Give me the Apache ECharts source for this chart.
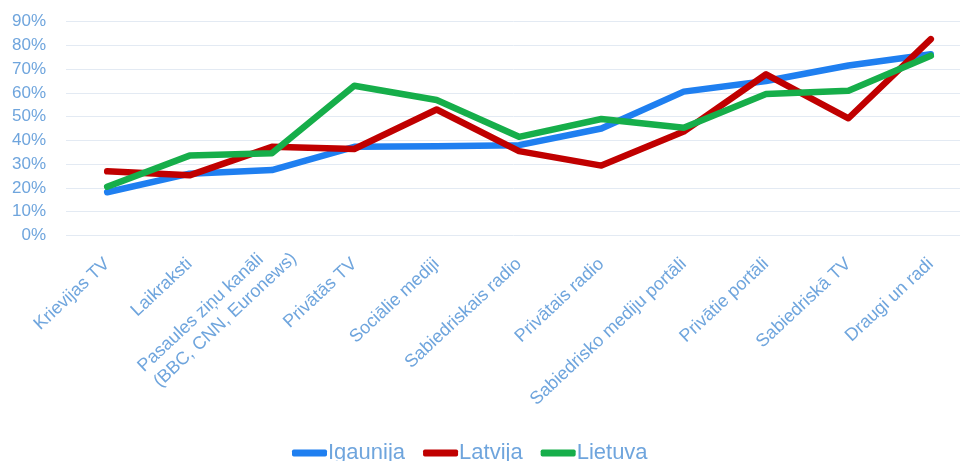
<!DOCTYPE html>
<html>
<head>
<meta charset="utf-8">
<script src="https://cdn.jsdelivr.net/npm/echarts@6/dist/echarts.min.js"></script>
<style>html,body{margin:0;padding:0;background:#fff}#c{width:960px;height:461px}</style>
</head>
<body>
<div id="c"></div>
<script>
var categories = ["Krievijas TV", "Laikraksti", "Pasaules ziņu kanāli\n(BBC, CNN, Euronews)", "Privātās TV", "Sociālie mediji", "Sabiedriskais radio", "Privātais radio", "Sabiedrisko mediju portāli", "Privātie portāli", "Sabiedriskā TV", "Draugi un radi"];
var igaunija = [18.2, 26, 27.5, 37.3, 37.5, 38, 45, 60.5, 65, 71.5, 76.2];
var latvija = [27, 25.3, 37.3, 36.4, 53, 35.5, 29.4, 43.7, 67.8, 49.3, 82.6];
var lietuva = [20.5, 33.6, 34.6, 63, 57, 41.5, 49, 45.3, 59.5, 60.9, 75.6];
var yTicks = {min: 0, max: 90, interval: 10};

var labelColor = '#6fa5dd';
var font = 'Liberation Sans, Arial, sans-serif';
var chart = echarts.init(document.getElementById('c'));
function ser(name, data, color) {
  return {name: name, type: 'line', data: data, symbol: 'none', smooth: false,
    lineStyle: {width: 6.5, color: color, cap: 'round', join: 'round'}, itemStyle: {color: color}};
}
chart.setOption({
  animation: false,
  grid: {left: 66, top: 21.5, width: 906, bottom: 225.5, containLabel: false, outerBoundsMode: 'none'},
  xAxis: {type: 'category', data: categories, boundaryGap: true,
    axisLine: {show: false}, axisTick: {show: false},
    axisLabel: {rotate: 43, interval: 0, margin: 26, color: labelColor, fontSize: 18, fontFamily: font, lineHeight: 20,
      formatter: function (v) {
        var p = v.split('\n');
        if (p.length < 2) return v;
        return '{a|' + p[0] + '}\n{b|' + p[1] + '}';
      },
      rich: {
        a: {color: labelColor, fontSize: 18, fontFamily: font, lineHeight: 22, padding: [0, 5, 0, 0]},
        b: {color: labelColor, fontSize: 18, fontFamily: font, lineHeight: 22, padding: [0, -20, 0, 0]}
      }},
    },
  yAxis: {type: 'value', min: yTicks.min, max: yTicks.max, interval: yTicks.interval,
    axisLabel: {formatter: '{value}%', color: labelColor, fontSize: 17, fontFamily: font, margin: 20},
    splitLine: {lineStyle: {color: '#e3eaf3', width: 1}}},
  legend: {left: 287, top: 437, itemWidth: 35, itemHeight: 7, itemGap: 18, icon: 'roundRect',
    textStyle: {color: labelColor, fontSize: 22, fontFamily: font, padding: [0, 0, 0, -4]}},
  series: [ser('Igaunija', igaunija, '#1f7ff0'), ser('Latvija', latvija, '#c00000'), ser('Lietuva', lietuva, '#16ae4a')]
});
</script>
</body>
</html>
